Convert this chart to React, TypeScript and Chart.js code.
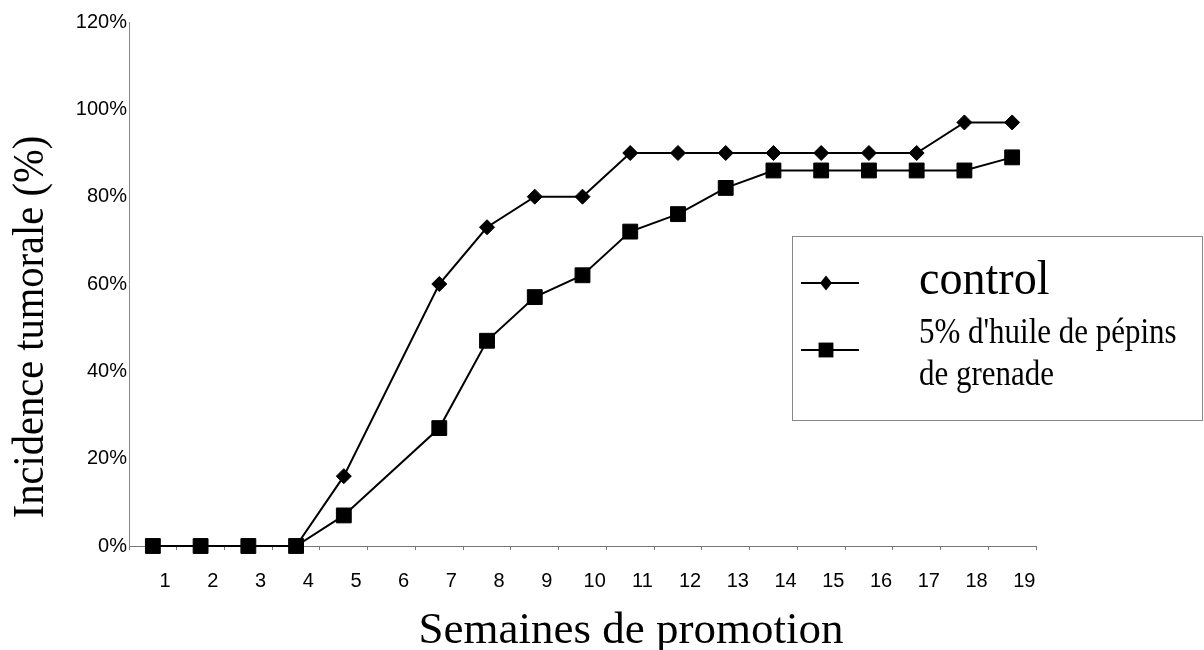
import React, { useEffect, useRef } from 'react';
import { Chart, registerables } from 'chart.js';

Chart.register(...registerables);

// ---- data ----
const weeks = [1, 2, 3, 4, 5, 7, 8, 9, 10, 11, 12, 13, 14, 15, 16, 17, 18, 19];
const controlValues = [0, 0, 0, 0, 16, 60, 73, 80, 80, 90, 90, 90, 90, 90, 90, 90, 97, 97];
const huileValues = [0, 0, 0, 0, 7, 27, 47, 57, 62, 72, 76, 82, 86, 86, 86, 86, 86, 89];
const tickLabels = ['1', '2', '3', '4', '5', '6', '7', '8', '9', '10', '11', '12', '13', '14', '15', '16', '17', '18', '19'];
const seriesNames = ['control', "5% d'huile de pépins de grenade"];
const legendLines = [['control'], ["5% d'huile de pépins", 'de grenade']];
const xTitle = 'Semaines de promotion';
const yTitle = 'Incidence tumorale (%)';

const SERIF = '"Liberation Serif", "Times New Roman", serif';
const SANS = '"Liberation Sans", Arial, sans-serif';

function drawMarker(ctx: CanvasRenderingContext2D, style: string, x: number, y: number, r: number) {
  ctx.beginPath();
  if (style === 'rectRot') {
    ctx.moveTo(x, y - r);
    ctx.lineTo(x + r * 0.8, y);
    ctx.lineTo(x, y + r);
    ctx.lineTo(x - r * 0.8, y);
    ctx.closePath();
  } else {
    const s = r * Math.SQRT1_2;
    ctx.rect(x - s, y - s, 2 * s, 2 * s);
  }
  ctx.fill();
}

function condensedText(ctx: CanvasRenderingContext2D, text: string, x: number, y: number, sx: number) {
  ctx.save();
  ctx.translate(x, y);
  ctx.scale(sx, 1);
  ctx.fillText(text, 0, 0);
  ctx.restore();
}

const overlayPlugin = {
  id: 'overlay',
  afterDraw(chart: any) {
    const { ctx } = chart;
    ctx.save();
    ctx.fillStyle = '#000';
    // y title
    ctx.save();
    ctx.translate(31, 327);
    ctx.rotate(-Math.PI / 2);
    ctx.scale(0.9, 1);
    ctx.font = `45px ${SERIF}`;
    ctx.textAlign = 'center';
    ctx.textBaseline = 'middle';
    ctx.fillText(yTitle, 0, 0);
    ctx.restore();
    // x title
    ctx.font = `45px ${SERIF}`;
    ctx.textAlign = 'center';
    ctx.textBaseline = 'alphabetic';
    ctx.fillText(xTitle, 631, 643);

    // legend box
    const bx = 792;
    const by = 236;
    ctx.strokeStyle = '#888';
    ctx.lineWidth = 1;
    ctx.strokeRect(bx + 0.5, by + 0.5, 1202 - bx, 184);

    const rows = [by + 47, by + 114];
    rows.forEach((ry, i) => {
      const ds = chart.data.datasets[i];
      ctx.strokeStyle = '#000';
      ctx.lineWidth = 2;
      ctx.beginPath();
      ctx.moveTo(bx + 9, ry);
      ctx.lineTo(bx + 67, ry);
      ctx.stroke();
      ctx.fillStyle = '#000';
      drawMarker(ctx, ds.pointStyle, bx + 34, ry, ds.pointRadius);
    });

    ctx.fillStyle = '#000';
    ctx.textAlign = 'left';
    ctx.font = `48px ${SERIF}`;
    condensedText(ctx, legendLines[0][0], bx + 127, by + 58, 0.96);
    ctx.font = `36px ${SERIF}`;
    condensedText(ctx, legendLines[1][0], bx + 127, by + 107, 0.86);
    condensedText(ctx, legendLines[1][1], bx + 127, by + 149, 0.86);
    ctx.restore();
  },
};

export default function App() {
  const canvasRef = useRef<HTMLCanvasElement | null>(null);

  useEffect(() => {
    document.body.style.margin = '0';
    const canvas = canvasRef.current;
    if (!canvas) return;
    const chart = new Chart(canvas, {
      type: 'line',
      data: {
        datasets: [
          {
            label: seriesNames[0],
            data: weeks.map((w, i) => ({ x: w, y: controlValues[i] })),
            borderColor: '#000',
            backgroundColor: '#000',
            borderWidth: 2,
            pointStyle: 'rectRot',
            pointRadius: 7.5,
            pointBorderWidth: 1,
            pointBackgroundColor: '#000',
            pointBorderColor: '#000',
            tension: 0,
            clip: false,
          },
          {
            label: seriesNames[1],
            data: weeks.map((w, i) => ({ x: w, y: huileValues[i] })),
            borderColor: '#000',
            backgroundColor: '#000',
            borderWidth: 2,
            pointStyle: 'rect',
            pointRadius: 10.5,
            pointBorderWidth: 1,
            pointBackgroundColor: '#000',
            pointBorderColor: '#000',
            tension: 0,
            clip: false,
          },
        ],
      },
      options: {
        animation: false,
        responsive: true,
        maintainAspectRatio: false,
        layout: { padding: { top: 22, right: 168, left: 0, bottom: 0 } },
        plugins: {
          legend: { display: false },
          tooltip: { enabled: false },
        },
        scales: {
          x: {
            type: 'linear',
            min: 0.5,
            max: 19.5,
            afterBuildTicks: (axis: any) => {
              const t = [];
              for (let i = 0; i <= tickLabels.length; i++) t.push({ value: i + 0.5 });
              axis.ticks = t;
            },
            afterFit: (scale: any) => {
              scale.height = 104;
            },
            ticks: {
              autoSkip: false,
              maxRotation: 0,
              labelOffset: 36,
              padding: 19,
              color: '#000',
              font: { family: SANS, size: 20 },
              callback: (_v: any, index: number) => tickLabels[index] ?? '',
            },
            grid: {
              display: true,
              drawOnChartArea: false,
              drawTicks: true,
              tickLength: 4,
              color: '#777',
              lineWidth: 1,
            },
            border: { display: true, color: '#777', width: 1 },
          },
          y: {
            type: 'linear',
            min: 0,
            max: 120,
            afterFit: (scale: any) => {
              scale.width = 129;
            },
            ticks: {
              stepSize: 20,
              padding: 2,
              color: '#000',
              font: { family: SANS, size: 20 },
              callback: (v: any) => `${v}%`,
            },
            grid: {
              display: true,
              drawOnChartArea: false,
              drawTicks: false,
            },
            border: { display: true, color: '#888', width: 1 },
          },
        },
      },
      plugins: [overlayPlugin],
    });
    return () => chart.destroy();
  }, []);

  return (
    <div style={{ position: 'relative', width: 1204, height: 650, background: '#fff' }}>
      <canvas ref={canvasRef} />
    </div>
  );
}
